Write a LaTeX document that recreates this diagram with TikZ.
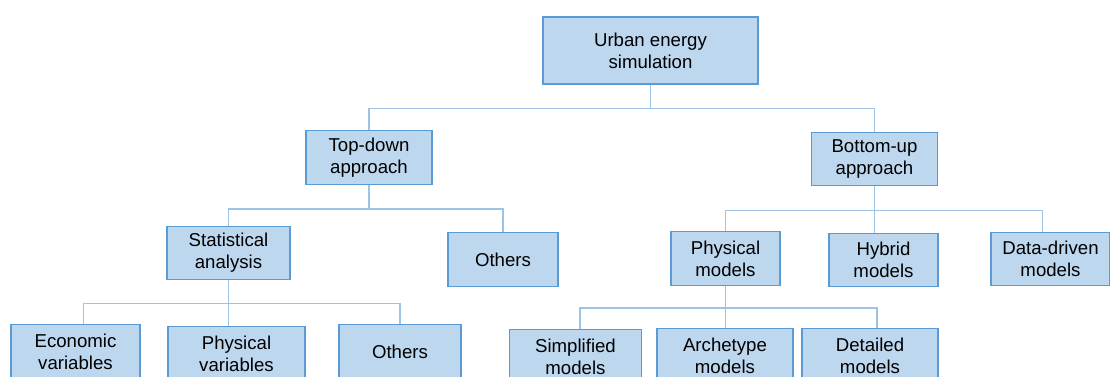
\documentclass[tikz,border=0pt]{standalone}
\usepackage{fontspec}
\setmainfont{Liberation Sans}
\definecolor{boxfill}{HTML}{BDD7EE}
\definecolor{boxline}{HTML}{5B9BD5}
\definecolor{linkline}{HTML}{9DC3E6}
\begin{document}
\begin{tikzpicture}[x=0.02cm,y=-0.02cm,
  box/.style={draw=boxline,fill=boxfill,line width=0.8pt,inner sep=0pt,
    align=center,minimum height=1.07cm,font=\fontsize{10.6}{12.6}\selectfont},
  link/.style={draw=linkline,line width=0.7pt}]
\useasboundingbox (0,0) rectangle (1110,376);
\clip (0,0) rectangle (1110,376);

\node[box,minimum width=4.3cm,minimum height=1.34cm] (root) at (650.5,50.5) {Urban energy\\simulation};

\foreach \name/\x/\y/\w/\txt in {
  td/369/157.5/2.52/{Top-down\\approach},
  bu/874.5/159/2.52/{Bottom-up\\approach},
  stat/228.5/253/2.46/{Statistical\\analysis},
  othA/503/259.5/2.2/{Others},
  phys/725.5/258.5/2.18/{Physical\\models},
  hyb/883.5/260/2.18/{Hybrid\\models},
  dd/1050.5/259/2.38/{Data-driven\\models},
  econ/75.5/351.5/2.58/{Economic\\variables},
  physvar/236.5/353.5/2.74/{Physical\\variables},
  othB/400/351.5/2.44/{Others},
  simp/575.5/356.5/2.64/{Simplified\\models},
  arch/725/355.5/2.72/{Archetype\\models},
  det/870/355.5/2.72/{Detailed\\models}}
\node[box,minimum width=\w cm] (\name) at (\x,\y) {\txt};

\draw[link] (root.south) -- ++(0,24) coordinate (j1);
\draw[link] (td.north) |- (j1) -| (bu.north);

\draw[link] (td.south) -- ++(0,24) -| (stat.north);
\draw[link] (td.south) ++(0,24) -| (othA.north);

\draw[link] (bu.south) -- (bu.south |- hyb.north);
\draw[link] (bu.south) ++(0,24) -| (phys.north);
\draw[link] (bu.south) ++(0,24) -| ([xshift=-4.5]dd.north);

\draw[link] (stat.south) -- (stat.south |- physvar.north);
\draw[link] (stat.south) ++(0,23) -| ([xshift=4.5]econ.north);
\draw[link] (stat.south) ++(0,23) -| (othB.north);

\draw[link] (phys.south) -- (phys.south |- arch.north);
\draw[link] (phys.south) ++(0,22) -| ([xshift=2.5]simp.north);
\draw[link] (phys.south) ++(0,22) -| ([xshift=4]det.north);
\end{tikzpicture}
\end{document}
